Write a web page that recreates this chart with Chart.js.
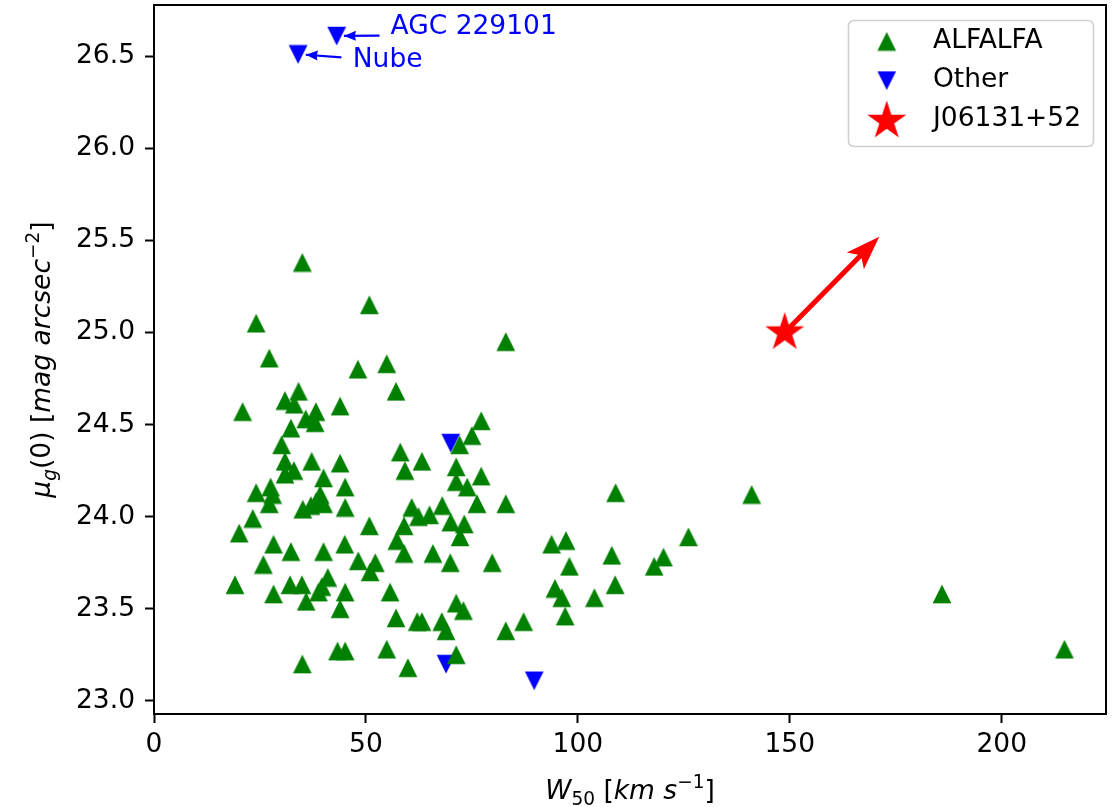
<!DOCTYPE html>
<html><head><meta charset="utf-8">
<script src="https://cdn.jsdelivr.net/npm/chart.js@4.4.1/dist/chart.umd.min.js"></script>
<style>html,body{margin:0;padding:0;background:#fff;}#wrap{width:1112px;height:807px;}</style>
</head><body><div id="wrap"><canvas id="c" width="1112" height="807" style="width:1112px;height:807px"></canvas></div>
<script>
// ---------------- data ----------------
const xTicks = [0, 50, 100, 150, 200];
const yTicks = [23.0, 23.5, 24.0, 24.5, 25.0, 25.5, 26.0, 26.5];
const xLimits = [0, 224.6];
const yLimits = [22.929, 26.778];

const seriesNames = ['ALFALFA', 'Other', 'J06131+52'];

// [W50, mu_g(0)]
const alfalfa = [
  [35.0,25.38],[50.8,25.15],[24.1,25.05],[27.2,24.86],[48.1,24.80],[54.9,24.83],[57.1,24.68],
  [20.9,24.57],[34.1,24.68],[30.9,24.63],[33.1,24.61],[43.9,24.60],[38.2,24.57],[35.8,24.53],
  [38.0,24.51],[32.3,24.48],[30.1,24.39],[58.1,24.35],[63.2,24.30],[59.2,24.25],[30.9,24.30],
  [37.2,24.30],[43.9,24.29],[33.0,24.25],[30.9,24.23],[40.0,24.21],
  [24.1,24.13],[27.5,24.16],[28.0,24.12],[27.2,24.07],[39.2,24.12],[45.1,24.16],[38.2,24.08],
  [40.0,24.07],[35.1,24.04],[37.0,24.06],[45.1,24.05],[23.3,23.99],[20.1,23.91],[50.8,23.95],
  [60.8,24.05],[62.4,24.00],[65.0,24.01],[59.0,23.95],[57.3,23.87],[59.0,23.80],[65.8,23.80],
  [28.2,23.85],[32.3,23.81],[40.0,23.81],[45.0,23.85],[25.8,23.74],[48.2,23.76],[52.2,23.75],
  [51.0,23.70],[41.0,23.67],[19.1,23.63],[28.2,23.58],[32.1,23.63],[34.9,23.63],[35.9,23.54],
  [38.8,23.59],[39.6,23.62],[45.1,23.59],[43.9,23.50],[55.7,23.59],[57.1,23.45],[62.1,23.43],
  [63.2,23.43],[67.9,23.43],[43.3,23.27],[45.1,23.27],[54.9,23.28],[35.0,23.20],[59.9,23.18],
  [83.0,24.95],[77.2,24.52],[75.0,24.44],[72.1,24.39],[71.3,24.27],[77.2,24.22],[71.3,24.19],
  [73.9,24.16],[76.2,24.07],[83.0,24.07],[68.0,24.06],[70.0,23.97],[73.2,23.96],[72.2,23.89],
  [69.9,23.75],[79.8,23.75],[93.8,23.85],[97.2,23.87],[98.0,23.73],[108.0,23.79],[108.9,24.13],
  [118.0,23.73],[120.2,23.78],[68.9,23.38],[71.3,23.53],[73.0,23.49],[71.3,23.25],[83.0,23.38],
  [87.2,23.43],[94.6,23.61],[96.2,23.56],[97.0,23.46],[103.9,23.56],[108.8,23.63],[126.1,23.89],
  [141.0,24.12],[185.9,23.58],[214.8,23.28]
];
const other = [[70.0,24.40],[68.9,23.20],[89.7,23.11],[34.0,26.51],[43.1,26.61]];
const target = [[148.8,25.0]];

// annotations: label, text position, arrow start, arrow end (data units)
const noteLabels = ['AGC 229101', 'Nube'];
const noteTextPos = [[55.8,26.658],[46.9,26.480]];
const noteArrowFrom = [[53.2,26.612],[44.2,26.494]];
const noteArrowTo = [[44.8,26.610],[35.8,26.508]];
// big arrow from J06131+52
const bigArrowFrom = [148.8, 25.0];
const bigArrowTo = [171.1, 25.52];

// ---------------- styles ----------------
const FONT = 'DejaVu Sans';
const FS = 26.5;
function markerCanvas(kind, color) {
  const c = document.createElement('canvas');
  const g = c.getContext('2d');
  if (kind === 'star') {
    c.width = 44; c.height = 44;
    const R = 20.5, r = R * 0.381966, cx = 22, cy = 22;
    g.beginPath();
    for (let i = 0; i < 10; i++) {
      const a = -Math.PI / 2 + i * Math.PI / 5;
      const rr = i % 2 ? r : R;
      const px = cx + rr * Math.cos(a), py = cy + rr * Math.sin(a);
      i ? g.lineTo(px, py) : g.moveTo(px, py);
    }
    g.closePath();
  } else {
    c.width = 20; c.height = 20;
    g.beginPath();
    if (kind === 'up') { g.moveTo(10, 0.6); g.lineTo(19.4, 19.2); g.lineTo(0.6, 19.2); }
    else { g.moveTo(10, 19.4); g.lineTo(19.4, 0.8); g.lineTo(0.6, 0.8); }
    g.closePath();
  }
  g.fillStyle = color; g.fill();
  return c;
}
const mUp = markerCanvas('up', '#008000');
const mDown = markerCanvas('down', '#0000ff');
const mStar = markerCanvas('star', '#ff0000');

function richText(ctx, parts, size) {
  let total = 0;
  const items = parts.map(p => {
    const fs = (p.sub || p.sup) ? size * 0.7 : size;
    const font = (p.it ? 'italic ' : '') + fs + 'px "' + FONT + '"';
    ctx.font = font;
    const w = ctx.measureText(p.t).width;
    total += w;
    return { p, font, w };
  });
  return { items, total };
}
function drawRich(ctx, parts, size, cx, baseY, rotate) {
  ctx.save();
  ctx.translate(cx, baseY);
  if (rotate) ctx.rotate(-Math.PI / 2);
  const r = richText(ctx, parts, size);
  let x = -r.total / 2;
  ctx.fillStyle = '#000';
  ctx.textBaseline = 'alphabetic';
  ctx.textAlign = 'left';
  r.items.forEach(it => {
    ctx.font = it.font;
    let dy = 0;
    if (it.p.sub) dy = size * 0.22;
    if (it.p.sup) dy = -size * 0.42;
    ctx.fillText(it.p.t, x, dy);
    x += it.w;
  });
  ctx.restore();
}
const xTitle = [{t:'W', it:true},{t:'50', sub:true},{t:' ['},{t:'km s', it:true},{t:'\u22121', sup:true},{t:']'}];
const yTitle = [{t:'\u03bc', it:true},{t:'g', it:true, sub:true},{t:'(0) ['},{t:'mag arcsec', it:true},{t:'\u22122', sup:true},{t:']'}];

function arrowHead(ctx, x1, y1, x2, y2, len, half, notch) {
  const a = Math.atan2(y2 - y1, x2 - x1);
  const ux = Math.cos(a), uy = Math.sin(a);
  ctx.beginPath();
  ctx.moveTo(x2, y2);
  ctx.lineTo(x2 - ux * len - uy * half, y2 - uy * len + ux * half);
  ctx.lineTo(x2 - ux * (len - notch), y2 - uy * (len - notch));
  ctx.lineTo(x2 - ux * len + uy * half, y2 - uy * len - ux * half);
  ctx.closePath();
  ctx.fill();
}

const decor = {
  id: 'decor',
  beforeDatasetsDraw(chart) {
    const { ctx } = chart;
    const xs = chart.scales.x, ys = chart.scales.y;
    const x1 = xs.getPixelForValue(bigArrowFrom[0]), y1 = ys.getPixelForValue(bigArrowFrom[1]);
    const x2 = xs.getPixelForValue(bigArrowTo[0]), y2 = ys.getPixelForValue(bigArrowTo[1]);
    const a = Math.atan2(y2 - y1, x2 - x1);
    ctx.save();
    ctx.strokeStyle = '#ff0000'; ctx.fillStyle = '#ff0000';
    ctx.lineWidth = 5; ctx.lineCap = 'butt';
    ctx.beginPath(); ctx.moveTo(x1, y1);
    ctx.lineTo(x2 - Math.cos(a) * 24, y2 - Math.sin(a) * 24); ctx.stroke();
    arrowHead(ctx, x1, y1, x2, y2, 34, 12, 8);
    ctx.restore();
  },
  afterDatasetsDraw(chart) {
    const { ctx, chartArea: ca } = chart;
    const xs = chart.scales.x, ys = chart.scales.y;
    ctx.save();
    ctx.strokeStyle = '#0000ff'; ctx.fillStyle = '#0000ff'; ctx.lineWidth = 2.2;
    noteLabels.forEach((lab, i) => {
      const ax = xs.getPixelForValue(noteArrowFrom[i][0]), ay = ys.getPixelForValue(noteArrowFrom[i][1]);
      const bx = xs.getPixelForValue(noteArrowTo[i][0]), by = ys.getPixelForValue(noteArrowTo[i][1]);
      ctx.beginPath(); ctx.moveTo(ax, ay); ctx.lineTo(bx, by); ctx.stroke();
      arrowHead(ctx, ax, ay, bx, by, 12, 5, 1);
      ctx.font = FS + 'px "' + FONT + '"';
      ctx.textAlign = 'left'; ctx.textBaseline = 'middle';
      ctx.fillText(lab, xs.getPixelForValue(noteTextPos[i][0]), ys.getPixelForValue(noteTextPos[i][1]));
    });
    ctx.strokeStyle = '#000'; ctx.lineWidth = 2;
    ctx.strokeRect(ca.left, ca.top, ca.right - ca.left, ca.bottom - ca.top);
    // legend
    const L = 848.5, T = 20.5, W = 245, H = 126, R = 6;
    ctx.beginPath();
    ctx.moveTo(L + R, T); ctx.lineTo(L + W - R, T); ctx.quadraticCurveTo(L + W, T, L + W, T + R);
    ctx.lineTo(L + W, T + H - R); ctx.quadraticCurveTo(L + W, T + H, L + W - R, T + H);
    ctx.lineTo(L + R, T + H); ctx.quadraticCurveTo(L, T + H, L, T + H - R);
    ctx.lineTo(L, T + R); ctx.quadraticCurveTo(L, T, L + R, T); ctx.closePath();
    ctx.fillStyle = 'rgba(255,255,255,0.8)'; ctx.fill();
    ctx.strokeStyle = '#d0d0d0'; ctx.lineWidth = 1.6; ctx.stroke();
    const rowsY = [41.5, 80.5, 121];
    chart.data.datasets.forEach((ds, i) => {
      const img = ds.pointStyle;
      ctx.drawImage(img, 886.7 - img.width / 2, rowsY[i] - img.height / 2);
      ctx.fillStyle = '#000';
      ctx.font = FS + 'px "' + FONT + '"';
      ctx.textAlign = 'left'; ctx.textBaseline = 'middle';
      ctx.fillText(ds.label, 933, rowsY[i] - 0.5 - (i === 2 ? 1.5 : 0));
    });
    drawRich(ctx, xTitle, FS, (ca.left + ca.right) / 2, 799, false);
    drawRich(ctx, yTitle, FS, 50, (ca.top + ca.bottom) / 2, true);
    ctx.restore();
  }
};

const toXY = arr => arr.map(p => ({ x: p[0], y: p[1] }));
new Chart(document.getElementById('c'), {
  type: 'scatter',
  data: {
    datasets: [
      { label: seriesNames[0], data: toXY(alfalfa), pointStyle: mUp, pointRadius: 10 },
      { label: seriesNames[1], data: toXY(other), pointStyle: mDown, pointRadius: 10 },
      { label: seriesNames[2], data: toXY(target), pointStyle: mStar, pointRadius: 20 }
    ]
  },
  options: {
    responsive: false, animation: false, events: [],
    layout: { autoPadding: false, padding: { left: 0, top: 5, right: 6, bottom: 0 } },
    plugins: { legend: { display: false }, tooltip: { enabled: false } },
    scales: {
      x: {
        type: 'linear', min: xLimits[0], max: xLimits[1],
        afterBuildTicks: s => { s.ticks = xTicks.map(v => ({ value: v })); },
        afterFit: s => { s.height = 93; s.paddingLeft = 0; s.paddingRight = 0; },
        grid: { drawOnChartArea: false, drawTicks: true, tickLength: 9, tickWidth: 2, tickColor: '#000' },
        border: { display: false },
        ticks: { color: '#000', font: { family: FONT, size: FS }, padding: 6, maxRotation: 0, autoSkip: false,
                 callback: v => String(v) }
      },
      y: {
        type: 'linear', min: yLimits[0], max: yLimits[1],
        afterBuildTicks: s => { s.ticks = yTicks.map(v => ({ value: v })); },
        afterFit: s => { s.width = 154; s.paddingTop = 0; s.paddingBottom = 0; },
        grid: { drawOnChartArea: false, drawTicks: true, tickLength: 9, tickWidth: 2, tickColor: '#000' },
        border: { display: false },
        ticks: { color: '#000', font: { family: FONT, size: FS }, padding: 10, autoSkip: false,
                 callback: v => Number(v).toFixed(1) }
      }
    }
  },
  plugins: [decor]
});
</script></body></html>
